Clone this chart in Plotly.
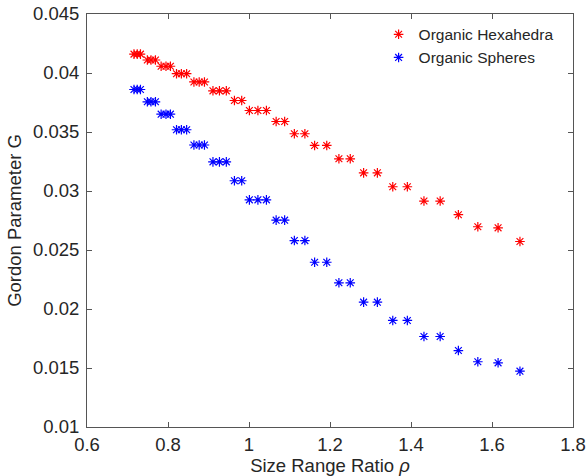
import plotly.graph_objects as go

# Size range ratio (shared by both series)
rho = [0.716, 0.724, 0.732,
       0.749, 0.758, 0.769,
       0.783, 0.795, 0.806,
       0.821, 0.833, 0.846,
       0.864, 0.877, 0.890,
       0.911, 0.927, 0.944,
       0.964, 0.982,
       1.001, 1.022, 1.043,
       1.067, 1.088,
       1.112, 1.138,
       1.162, 1.192,
       1.222, 1.250,
       1.283, 1.317,
       1.355, 1.391,
       1.432, 1.472,
       1.517, 1.565, 1.615, 1.669]

hexahedra_G = [0.0416, 0.0416, 0.0416,
               0.0411, 0.0411, 0.0411,
               0.04057, 0.04057, 0.04057,
               0.03994, 0.03994, 0.03994,
               0.03924, 0.03924, 0.03924,
               0.03849, 0.03849, 0.03849,
               0.03767, 0.03767,
               0.03682, 0.03682, 0.03682,
               0.03589, 0.03589,
               0.03485, 0.03485,
               0.03386, 0.03386,
               0.03273, 0.03273,
               0.03154, 0.03154,
               0.03036, 0.03036,
               0.02915, 0.02915,
               0.02799, 0.02697, 0.02688, 0.02572]

spheres_G = [0.0386, 0.0386, 0.0386,
             0.03756, 0.03756, 0.03756,
             0.03651, 0.03651, 0.03651,
             0.03519, 0.03519, 0.03519,
             0.0339, 0.0339, 0.0339,
             0.03247, 0.03247, 0.03247,
             0.03087, 0.03087,
             0.02925, 0.02925, 0.02925,
             0.02753, 0.02753,
             0.0258, 0.0258,
             0.02396, 0.02396,
             0.02222, 0.02222,
             0.02058, 0.02058,
             0.01903, 0.01903,
             0.01767, 0.01767,
             0.01648, 0.01553, 0.01544, 0.01473]

series_names = ["Organic Hexahedra", "Organic Spheres"]

x_tickvals = [0.6, 0.8, 1.0, 1.2, 1.4, 1.6, 1.8]
x_ticktext = ["0.6", "0.8", "1", "1.2", "1.4", "1.6", "1.8"]
y_tickvals = [0.01, 0.015, 0.02, 0.025, 0.03, 0.035, 0.04, 0.045]
y_ticktext = ["0.01", "0.015", "0.02", "0.025", "0.03", "0.035", "0.04", "0.045"]

FONT = "Liberation Sans, Arial, sans-serif"
TXT = "#262626"
FS = 18.5

fig = go.Figure()
fig.add_trace(go.Scatter(
    x=rho, y=hexahedra_G, mode="markers", name=series_names[0],
    marker=dict(symbol="asterisk-open", size=8, color="#ff0000",
                line=dict(color="#ff0000", width=1.2))))
fig.add_trace(go.Scatter(
    x=rho, y=spheres_G, mode="markers", name=series_names[1],
    marker=dict(symbol="asterisk-open", size=8, color="#0000ff",
                line=dict(color="#0000ff", width=1.2))))

axis_common = dict(showgrid=False, zeroline=False, showline=True, mirror="ticks",
                   linecolor="#555555", linewidth=1, ticks="inside", ticklen=5,
                   tickcolor="#555555", automargin=False,
                   tickfont=dict(family=FONT, size=FS, color=TXT))

fig.update_xaxes(range=[0.6, 1.8], tickvals=x_tickvals, ticktext=x_ticktext,
                 ticklabelstandoff=1,
                 title=dict(text="Size Range Ratio <i>ρ</i>", font=dict(family=FONT, size=FS, color=TXT),
                            standoff=0),
                 **axis_common)
fig.update_yaxes(range=[0.01, 0.045], tickvals=y_tickvals, ticktext=y_ticktext,
                 ticklabelstandoff=3,
                 title=dict(text="Gordon Parameter G", font=dict(family=FONT, size=FS, color=TXT),
                            standoff=6),
                 **axis_common)

fig.update_layout(
    width=587, height=476,
    margin=dict(l=87, r=14, t=14, b=49),
    plot_bgcolor="white", paper_bgcolor="white",
    font=dict(family=FONT, color=TXT),
    legend=dict(x=0.6, y=0.991, xanchor="left", yanchor="top",
                bgcolor="rgba(255,255,255,0)", borderwidth=0,
                font=dict(family=FONT, size=15.5, color=TXT)),
)

fig.write_html("out.html")
